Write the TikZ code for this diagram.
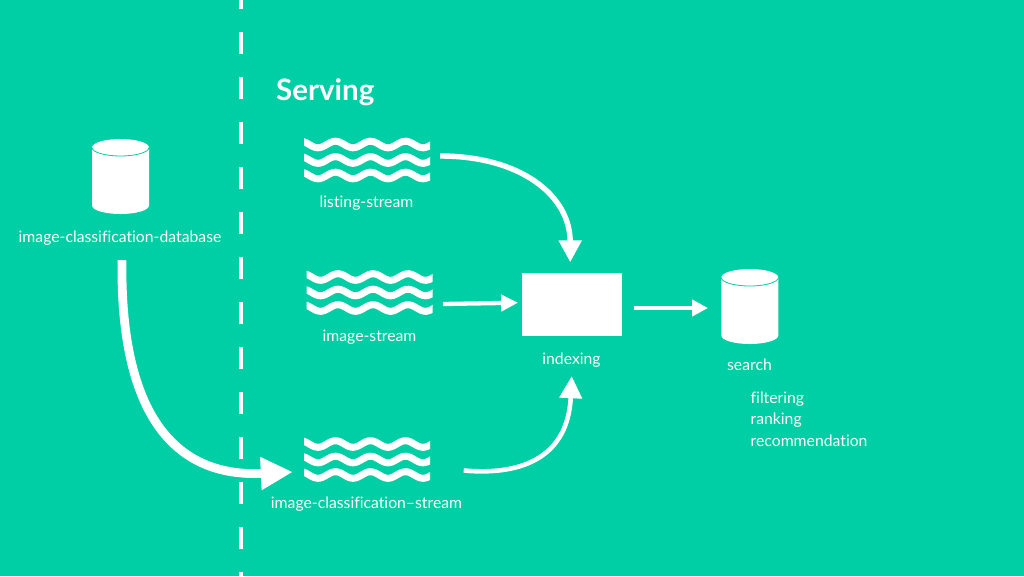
\documentclass[tikz,border=0pt]{standalone}
\usepackage{fontspec}
\setmainfont[Ligatures=NoCommon]{Lato}
\usetikzlibrary{arrows.meta}
\definecolor{bgteal}{RGB}{0,206,164}
\tikzset{
  lbl/.style={text=white,font=\fontsize{15.75}{18}\selectfont,inner sep=0pt},
  anchorbox/.style={inner sep=0pt,minimum width=#1},
  flow/.style={draw=white,line cap=butt},
  pics/wave/.style={code={
    \begin{scope}
      \clip (-63,-27) rectangle (63,27);
      \foreach \r in {-15.5,0,15.5}{
        \draw[white,line width=7pt,line join=round] plot[smooth,domain=-66:66,samples=70] (\x,{\r+3.3*cos(10.286*(\x+49))});
      }
    \end{scope}
  }},
  pics/cyl/.style={code={
    \fill[white] (-28.5,-29) .. controls (-28.5,-33.7) and (-15.7,-37.5) .. (0,-37.5)
      .. controls (15.7,-37.5) and (28.5,-33.7) .. (28.5,-29) -- (28.5,29)
      .. controls (28.5,33.7) and (15.7,37.5) .. (0,37.5)
      .. controls (-15.7,37.5) and (-28.5,33.7) .. (-28.5,29) -- cycle;
    \draw[bgteal,line width=0.8pt] (-28.5,-29) .. controls (-28.5,-24.3) and (-15.7,-20.5) .. (0,-20.5)
      .. controls (15.7,-20.5) and (28.5,-24.3) .. (28.5,-29);
  }}
}
\begin{document}
\begin{tikzpicture}[x=1pt,y=-1pt]
\useasboundingbox (0,0) rectangle (1024,576);
\fill[bgteal] (0,0) rectangle (1024,576);

% divider
\coordinate (divtop) at (241,0);
\coordinate (divbot) at (241,576);
\draw[white,line width=3.8pt,dash pattern=on 22pt off 23pt,dash phase=13pt] (divtop) -- (divbot);

% title
\node[lbl,anchor=west,font=\fontsize{29.5}{33}\bfseries\selectfont] (title) at (276,92.5) {Serving};

% databases
\node[minimum width=57pt,minimum height=75pt,inner sep=0pt] (db) at (120.5,176.5) {};
\pic at (db) {cyl};
\node[lbl] (dblabel) at (120,238) {image-classification-database};
\node[minimum width=57pt,minimum height=75pt,inner sep=0pt] (search) at (749.75,306.5) {};
\pic at (search) {cyl};
\node[lbl] (searchlabel) at (749.5,364.8) {search};

% streams
\node[anchorbox=126pt,minimum height=44pt] (listing) at (367,160) {};
\pic at (listing) {wave};
\node[lbl] (listinglabel) at (366.5,203) {listing-stream};
\node[anchorbox=126pt,minimum height=44pt] (image) at (369.5,292.5) {};
\pic at (image) {wave};
\node[lbl] (imagelabel) at (369.5,337) {image-stream};
\node[anchorbox=126pt,minimum height=44pt] (classif) at (367,459.5) {};
\pic at (classif) {wave};
\node[lbl] (classiflabel) at (366.5,504) {image-classification--stream};

% indexing
\node[fill=white,minimum width=100.5pt,minimum height=63pt,inner sep=0pt] (indexing) at (571.75,304.5) {};
\node[lbl] (indexinglabel) at (571.5,360) {indexing};

% detail list
\node[lbl,anchor=west] (l1) at (750.5,399) {filtering};
\node[lbl,anchor=west] (l2) at (750.5,420.5) {ranking};
\node[lbl,anchor=west] (l3) at (750.5,441) {recommendation};

% connectors
\draw[flow,line width=5.4pt,-{Triangle[length=22pt,width=22pt]}]
  ([shift={(10,-4)}]listing.east) .. controls (520,156) and (570,195) .. ([shift={(-1.5,-10.5)}]indexing.north);
\draw[flow,line width=4.3pt,-{Triangle[length=17pt,width=16pt]}]
  ([shift={(10.2,11.5)}]image.east) -- ([shift={(-3.2,-1.8)}]indexing.west);
\draw[flow,line width=4.6pt,-{Triangle[length=22pt,width=22pt]}]
  ([shift={(33.5,11)}]classif.east) .. controls (525,476) and (568,455) .. ([shift={(0,40)}]indexing.south);
\draw[flow,line width=4.4pt,-{Triangle[length=16pt,width=16pt]}]
  ([shift={(12,3.5)}]indexing.east) -- ([shift={(-13,1.5)}]search.west);
\draw[flow,line width=8.8pt,-{Triangle[length=32pt,width=31pt]}]
  ([shift={(1.5,46)}]db.south) .. controls (120,400) and (165,478) .. ([shift={(-11,12.5)}]classif.west);
\end{tikzpicture}
\end{document}
